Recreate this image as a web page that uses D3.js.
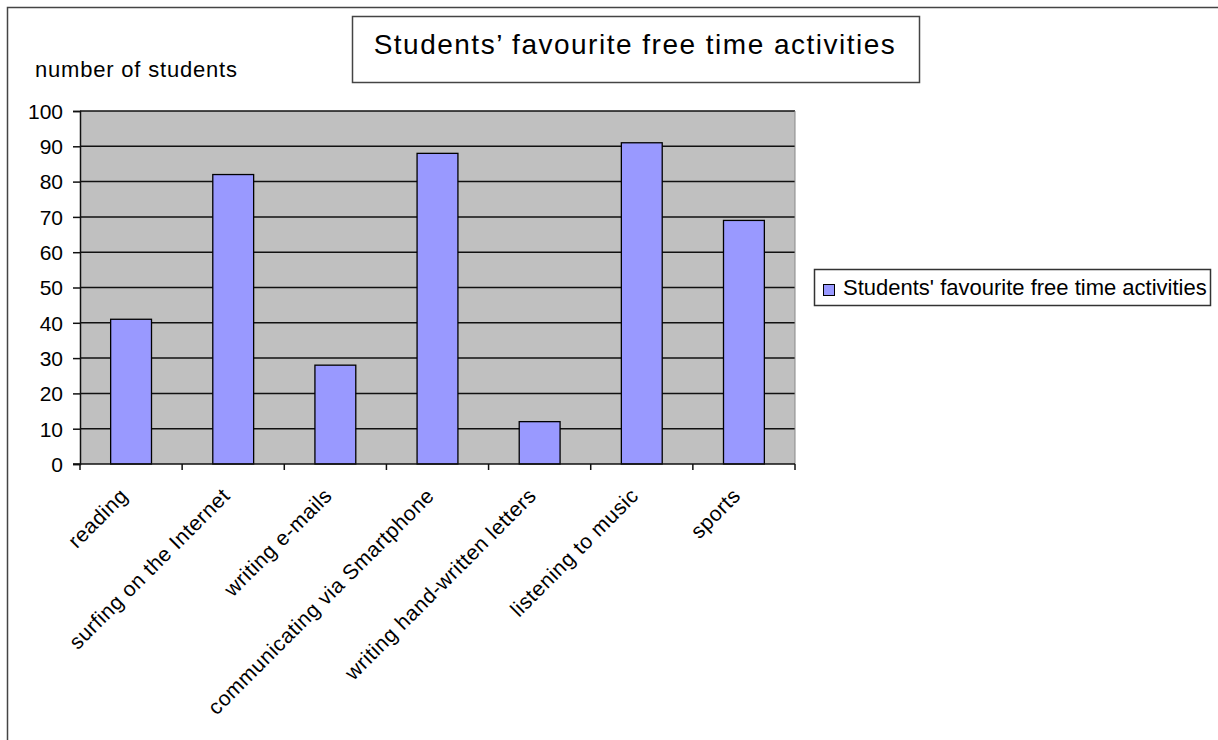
<!DOCTYPE html>
<html>
<head>
<meta charset="utf-8">
<script src="https://cdn.jsdelivr.net/npm/d3@7"></script>
<style>
  html, body { margin: 0; padding: 0; background: #fff; }
  svg { display: block; }
  text { font-family: "Liberation Sans", Arial, sans-serif; fill: #000; }
</style>
</head>
<body>
<svg id="chart" width="1218" height="740"></svg>
<script>
// Survey results: number of students per free time activity
const categories = [
  "reading",
  "surfing on the Internet",
  "writing e-mails",
  "communicating via Smartphone",
  "writing hand-written letters",
  "listening to music",
  "sports"
];
const values = [41, 82, 28, 88, 12, 91, 69];
const yTicks = [0, 10, 20, 30, 40, 50, 60, 70, 80, 90, 100];
const seriesName = "Students' favourite free time activities";
const chartTitle = "Students’ favourite free time activities";
const yAxisTitle = "number of students";

const svg = d3.select("#chart");

// outer chart frame
svg.append("rect")
  .attr("x", 7.5).attr("y", 7.5)
  .attr("width", 1240).attr("height", 760)
  .attr("fill", "#fff").attr("stroke", "#444").attr("stroke-width", 1.5);

const plot = { left: 80, right: 795, top: 111, bottom: 464 };

const band = d3.scaleBand()
  .domain(categories)
  .range([plot.left, plot.right]);

const y = d3.scaleLinear()
  .domain([0, 100])
  .range([plot.bottom, plot.top]);

// plot background
svg.append("rect")
  .attr("x", plot.left).attr("y", plot.top)
  .attr("width", plot.right - plot.left).attr("height", plot.bottom - plot.top)
  .attr("fill", "#c0c0c0");

// horizontal gridlines
svg.append("g")
  .selectAll("line")
  .data(yTicks.filter(d => d > 0))
  .join("line")
  .attr("x1", plot.left).attr("x2", plot.right)
  .attr("y1", d => y(d)).attr("y2", d => y(d))
  .attr("stroke", "#111").attr("stroke-width", 1.5);

// right edge of plot area
svg.append("line")
  .attr("x1", plot.right).attr("x2", plot.right)
  .attr("y1", plot.top).attr("y2", plot.bottom)
  .attr("stroke", "#888").attr("stroke-width", 1);

// bars (bar width = band / 2.5, i.e. a 150% gap)
const barW = band.bandwidth() / 2.5;
svg.append("g")
  .selectAll("rect")
  .data(values)
  .join("rect")
  .attr("x", (d, i) => band(categories[i]) + band.bandwidth() / 2 - barW / 2)
  .attr("width", barW)
  .attr("y", d => y(d))
  .attr("height", d => y(0) - y(d))
  .attr("fill", "#9999ff")
  .attr("stroke", "#000").attr("stroke-width", 1.3);

// y axis
const yAxis = d3.axisLeft(y)
  .tickValues(yTicks)
  .tickSize(7)
  .tickPadding(10)
  .tickFormat(d3.format("d"));
const gy = svg.append("g")
  .attr("transform", `translate(${plot.left},0)`)
  .call(yAxis);
gy.select(".domain").attr("stroke", "#111").attr("stroke-width", 1.5);
gy.selectAll(".tick line").attr("stroke", "#111").attr("stroke-width", 1.5);
gy.selectAll(".tick text")
  .style("font-size", "21px")
  .attr("dy", "0.35em");

// x axis: ticks on category boundaries
const boundaries = categories.map(c => band(c)).concat([plot.right]);
const gx = svg.append("g");
gx.append("line")
  .attr("x1", plot.left - 7).attr("x2", plot.right)
  .attr("y1", plot.bottom).attr("y2", plot.bottom)
  .attr("stroke", "#111").attr("stroke-width", 1.5);
gx.selectAll("line.tick")
  .data(boundaries)
  .join("line")
  .attr("class", "tick")
  .attr("x1", d => d).attr("x2", d => d)
  .attr("y1", plot.bottom).attr("y2", plot.bottom + 6)
  .attr("stroke", "#111").attr("stroke-width", 1.5);

// rotated category labels
gx.selectAll("text")
  .data(categories)
  .join("text")
  .attr("transform", d => {
    const cx = band(d) + band.bandwidth() / 2;
    return `translate(${cx - 2},${plot.bottom + 33}) rotate(-45)`;
  })
  .attr("text-anchor", "end")
  .style("font-size", "21px")
  .style("letter-spacing", "0.55px")
  .text(d => d);

// y axis title
svg.append("text")
  .attr("x", 35).attr("y", 77)
  .style("font-size", "22px")
  .style("letter-spacing", "0.8px")
  .text(yAxisTitle);

// chart title box
svg.append("rect")
  .attr("x", 352.5).attr("y", 16.5)
  .attr("width", 567).attr("height", 66)
  .attr("fill", "#fff").attr("stroke", "#444").attr("stroke-width", 1.5);
svg.append("text")
  .attr("x", 635).attr("y", 54)
  .attr("text-anchor", "middle")
  .style("font-size", "28px")
  .style("letter-spacing", "1.5px")
  .text(chartTitle);

// legend
const lg = svg.append("g");
lg.append("rect")
  .attr("x", 814.5).attr("y", 269.5)
  .attr("width", 396).attr("height", 36)
  .attr("fill", "#fff").attr("stroke", "#333").attr("stroke-width", 1.5);
lg.append("rect")
  .attr("x", 823.5).attr("y", 284.5)
  .attr("width", 11).attr("height", 11)
  .attr("fill", "#9999ff").attr("stroke", "#000").attr("stroke-width", 1);
lg.append("text")
  .attr("x", 843).attr("y", 295)
  .style("font-size", "22px")
  .text(seriesName);
</script>
</body>
</html>
